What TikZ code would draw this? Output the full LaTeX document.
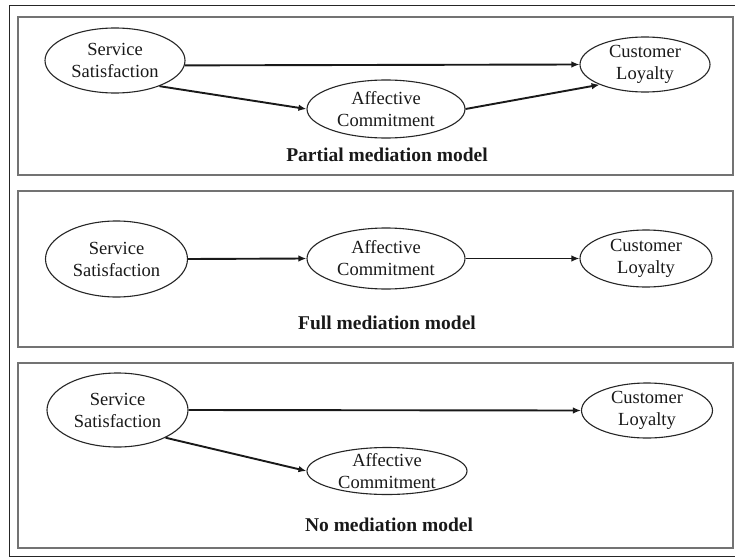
\documentclass[tikz,border=0pt]{standalone}
\usepackage{fontspec}
\setmainfont{Liberation Serif}
\usetikzlibrary{shapes.geometric, arrows.meta}

\begin{document}
\begin{tikzpicture}[x=1pt, y=-1pt,
  frame/.style={draw=black!85, line width=1.3pt},
  panel/.style={draw=black!55, line width=1.9pt},
  ell/.style={ellipse, draw=black!85, line width=1.1pt, inner sep=0pt},
  elltext/.style={align=center, inner sep=0pt, text=black!90, font=\fontsize{18.5}{22}\selectfont},
  caption/.style={inner sep=0pt, text=black!90, font=\bfseries\fontsize{19.5}{22}\selectfont},
  link/.style={draw=black!90, line width=1.9pt, -{Latex[length=8pt,width=6.5pt]}},
]
\useasboundingbox (0,0) rectangle (735,559);
\clip (0,0) rectangle (735,559);
\fill[white] (0,0) rectangle (735,559);

% outer frame and the three model panels
\draw[frame] (9.5,5.5) rectangle (760,556.5);
\draw[panel] (18,17) rectangle (733,175);
\draw[panel] (18,191) rectangle (733,347);
\draw[panel] (18,363) rectangle (733,548);

% --- partial mediation model
\node[ell, minimum width=140pt, minimum height=65pt,
      label={[elltext]center:Service\\Satisfaction}] (ss1) at (115,60.5) {};
\node[ell, minimum width=158pt, minimum height=58pt,
      label={[elltext]center:Affective\\Commitment}] (ac1) at (386,109) {};
\node[ell, minimum width=130pt, minimum height=55pt,
      label={[elltext]center:Customer\\Loyalty}] (cl1) at (645,64.5) {};
\node[caption] (cap1) at (387,155) {Partial mediation model};
\draw[link] (ss1.-4) -- (cl1.west);
\draw[link] (ss1.-30) -- (ac1.west);
\draw[link] (ac1.east) -- (cl1.204);

% --- full mediation model
\node[ell, minimum width=142pt, minimum height=76pt,
      label={[elltext]center:Service\\Satisfaction}] (ss2) at (116.5,259) {};
\node[ell, minimum width=158pt, minimum height=61pt,
      label={[elltext]center:Affective\\Commitment}] (ac2) at (386,258.5) {};
\node[ell, minimum width=132pt, minimum height=57pt,
      label={[elltext]center:Customer\\Loyalty}] (cl2) at (646,258.5) {};
\node[caption] (cap2) at (387,323) {Full mediation model};
\draw[link] (ss2.east) -- (ac2.west);
\draw[link] (ac2.east) -- (cl2.west);

% --- no mediation model
\node[ell, minimum width=141pt, minimum height=74pt,
      label={[elltext]center:Service\\Satisfaction}] (ss3) at (117.5,410) {};
\node[ell, minimum width=131pt, minimum height=55pt,
      label={[elltext]center:Customer\\Loyalty}] (cl3) at (647,410.5) {};
\node[ell, minimum width=160pt, minimum height=47pt,
      label={[elltext]center:Affective\\Commitment}] (ac3) at (387,471) {};
\node[caption] (cap3) at (389,525) {No mediation model};
\draw[link] (ss3.east) -- (cl3.west);
\draw[link] (ss3.-30) -- (ac3.west);
\end{tikzpicture}
\end{document}
